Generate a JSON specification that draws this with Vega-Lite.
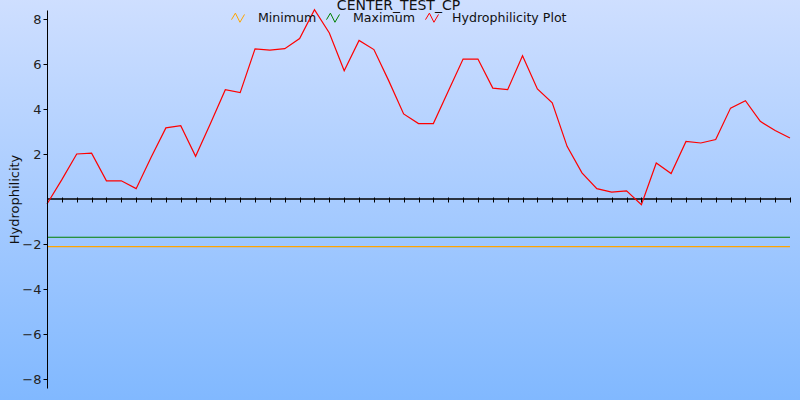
{
  "$schema": "https://vega.github.io/schema/vega-lite/v6.json",
  "width": 743,
  "height": 378,
  "autosize": {"type": "none"},
  "padding": {"left": 47, "top": 10, "right": 10, "bottom": 12},
  "background": "#a8cbff",
  "title": {
    "text": "CENTER_TEST_CP",
    "font": "DejaVu Sans",
    "fontSize": 14,
    "fontWeight": "normal",
    "color": "#111111",
    "anchor": "middle",
    "frame": "group",
    "baseline": "alphabetic",
    "offset": 0,
    "dy": 27,
    "dx": -20,
    "zindex": 2
  },
  "config": {
    "view": {"stroke": null},
    "font": "DejaVu Sans"
  },
  "datasets": {
    "series": [
      {"x": 0, "y": -2.12, "series": "Minimum"},
      {"x": 50, "y": -2.12, "series": "Minimum"},
      {"x": 0, "y": -1.70, "series": "Maximum"},
      {"x": 50, "y": -1.70, "series": "Maximum"},
      {"x": 0, "y": -0.22, "series": "Hydrophilicity Plot"},
      {"x": 1, "y": 0.86, "series": "Hydrophilicity Plot"},
      {"x": 2, "y": 2.00, "series": "Hydrophilicity Plot"},
      {"x": 3, "y": 2.04, "series": "Hydrophilicity Plot"},
      {"x": 4, "y": 0.81, "series": "Hydrophilicity Plot"},
      {"x": 5, "y": 0.81, "series": "Hydrophilicity Plot"},
      {"x": 6, "y": 0.46, "series": "Hydrophilicity Plot"},
      {"x": 7, "y": 1.84, "series": "Hydrophilicity Plot"},
      {"x": 8, "y": 3.16, "series": "Hydrophilicity Plot"},
      {"x": 9, "y": 3.26, "series": "Hydrophilicity Plot"},
      {"x": 10, "y": 1.90, "series": "Hydrophilicity Plot"},
      {"x": 11, "y": 3.36, "series": "Hydrophilicity Plot"},
      {"x": 12, "y": 4.86, "series": "Hydrophilicity Plot"},
      {"x": 13, "y": 4.73, "series": "Hydrophilicity Plot"},
      {"x": 14, "y": 6.67, "series": "Hydrophilicity Plot"},
      {"x": 15, "y": 6.62, "series": "Hydrophilicity Plot"},
      {"x": 16, "y": 6.68, "series": "Hydrophilicity Plot"},
      {"x": 17, "y": 7.13, "series": "Hydrophilicity Plot"},
      {"x": 18, "y": 8.41, "series": "Hydrophilicity Plot"},
      {"x": 19, "y": 7.38, "series": "Hydrophilicity Plot"},
      {"x": 20, "y": 5.70, "series": "Hydrophilicity Plot"},
      {"x": 21, "y": 7.05, "series": "Hydrophilicity Plot"},
      {"x": 22, "y": 6.64, "series": "Hydrophilicity Plot"},
      {"x": 23, "y": 5.25, "series": "Hydrophilicity Plot"},
      {"x": 24, "y": 3.78, "series": "Hydrophilicity Plot"},
      {"x": 25, "y": 3.35, "series": "Hydrophilicity Plot"},
      {"x": 26, "y": 3.35, "series": "Hydrophilicity Plot"},
      {"x": 27, "y": 4.79, "series": "Hydrophilicity Plot"},
      {"x": 28, "y": 6.22, "series": "Hydrophilicity Plot"},
      {"x": 29, "y": 6.22, "series": "Hydrophilicity Plot"},
      {"x": 30, "y": 4.93, "series": "Hydrophilicity Plot"},
      {"x": 31, "y": 4.86, "series": "Hydrophilicity Plot"},
      {"x": 32, "y": 6.37, "series": "Hydrophilicity Plot"},
      {"x": 33, "y": 4.89, "series": "Hydrophilicity Plot"},
      {"x": 34, "y": 4.27, "series": "Hydrophilicity Plot"},
      {"x": 35, "y": 2.34, "series": "Hydrophilicity Plot"},
      {"x": 36, "y": 1.16, "series": "Hydrophilicity Plot"},
      {"x": 37, "y": 0.46, "series": "Hydrophilicity Plot"},
      {"x": 38, "y": 0.31, "series": "Hydrophilicity Plot"},
      {"x": 39, "y": 0.36, "series": "Hydrophilicity Plot"},
      {"x": 40, "y": -0.25, "series": "Hydrophilicity Plot"},
      {"x": 41, "y": 1.60, "series": "Hydrophilicity Plot"},
      {"x": 42, "y": 1.13, "series": "Hydrophilicity Plot"},
      {"x": 43, "y": 2.56, "series": "Hydrophilicity Plot"},
      {"x": 44, "y": 2.49, "series": "Hydrophilicity Plot"},
      {"x": 45, "y": 2.64, "series": "Hydrophilicity Plot"},
      {"x": 46, "y": 4.04, "series": "Hydrophilicity Plot"},
      {"x": 47, "y": 4.37, "series": "Hydrophilicity Plot"},
      {"x": 48, "y": 3.45, "series": "Hydrophilicity Plot"},
      {"x": 49, "y": 3.04, "series": "Hydrophilicity Plot"},
      {"x": 50, "y": 2.71, "series": "Hydrophilicity Plot"}
    ]
  },
  "layer": [
    {
      "data": {"values": [{}]},
      "mark": {
        "type": "rect",
        "color": {
          "gradient": "linear",
          "x1": 0, "y1": 0, "x2": 0, "y2": 1,
          "stops": [
            {"offset": 0, "color": "#cfdfff"},
            {"offset": 1, "color": "#80b8ff"}
          ]
        }
      },
      "encoding": {
        "x": {"datum": -3.3, "type": "quantitative", "scale": {"domain": [0, 50], "nice": false, "zero": false}},
        "x2": {"datum": 50.8},
        "y": {"datum": 9.0, "type": "quantitative", "scale": {"domain": [-8.4, 8.4], "nice": false, "zero": false}},
        "y2": {"datum": -9.1}
      }
    },
    {
      "data": {"values": [{}]},
      "mark": {"type": "rule", "color": "#000000", "strokeWidth": 1.3},
      "encoding": {
        "y": {"datum": 0, "type": "quantitative"}
      }
    },
    {
      "data": {"name": "series"},
      "mark": {"type": "line", "strokeWidth": 1.2},
      "encoding": {
        "x": {
          "field": "x", "type": "quantitative",
          "scale": {"domain": [0, 50], "nice": false, "zero": false},
          "axis": {
            "orient": "bottom",
            "offset": -191,
            "zindex": 1,
            "values": [1,2,3,4,5,6,7,8,9,10,11,12,13,14,15,16,17,18,19,20,21,22,23,24,25,26,27,28,29,30,31,32,33,34,35,36,37,38,39,40,41,42,43,44,45,46,47,48,49,50],
            "tickCount": 80,
            "domain": false,
            "grid": false,
            "labels": false,
            "title": null,
            "ticks": true,
            "tickSize": 5,
            "tickColor": "#000000",
            "tickWidth": 1
          }
        },
        "y": {
          "field": "y", "type": "quantitative",
          "scale": {"domain": [-8.4, 8.4], "nice": false, "zero": false},
          "axis": {
            "zindex": 1,
            "values": [-8, -6, -4, -2, 2, 4, 6, 8],
            "grid": false,
            "domainColor": "#000000",
            "domainWidth": 1,
            "tickColor": "#000000",
            "tickSize": 4,
            "labelFontSize": 13,
            "labelColor": "#222222",
            "labelPadding": 2,
            "title": "Hydrophilicity",
            "titleFontSize": 13,
            "titleFontWeight": "normal",
            "titleColor": "#111111",
            "titlePadding": 0
          }
        },
        "color": {
          "field": "series", "type": "nominal",
          "scale": {
            "domain": ["Minimum", "Maximum", "Hydrophilicity Plot"],
            "range": ["#ffa500", "#008000", "#ff0000"]
          },
          "legend": {
            "title": null,
            "orient": "none",
            "direction": "horizontal",
            "columns": 3,
            "legendX": 184,
            "legendY": 0.5,
            "symbolType": "M-1,0.3L-0.4,-0.7L0.3,0.7L1,-0.5",
            "symbolSize": 169,
            "symbolStrokeWidth": 1,
            "symbolFillColor": "transparent",
            "labelFontSize": 12.6,
            "labelColor": "#111111",
            "labelOffset": 13,
            "columnPadding": 7,
            "padding": 0
          }
        },
        "detail": {"field": "series"}
      }
    }
  ]
}
